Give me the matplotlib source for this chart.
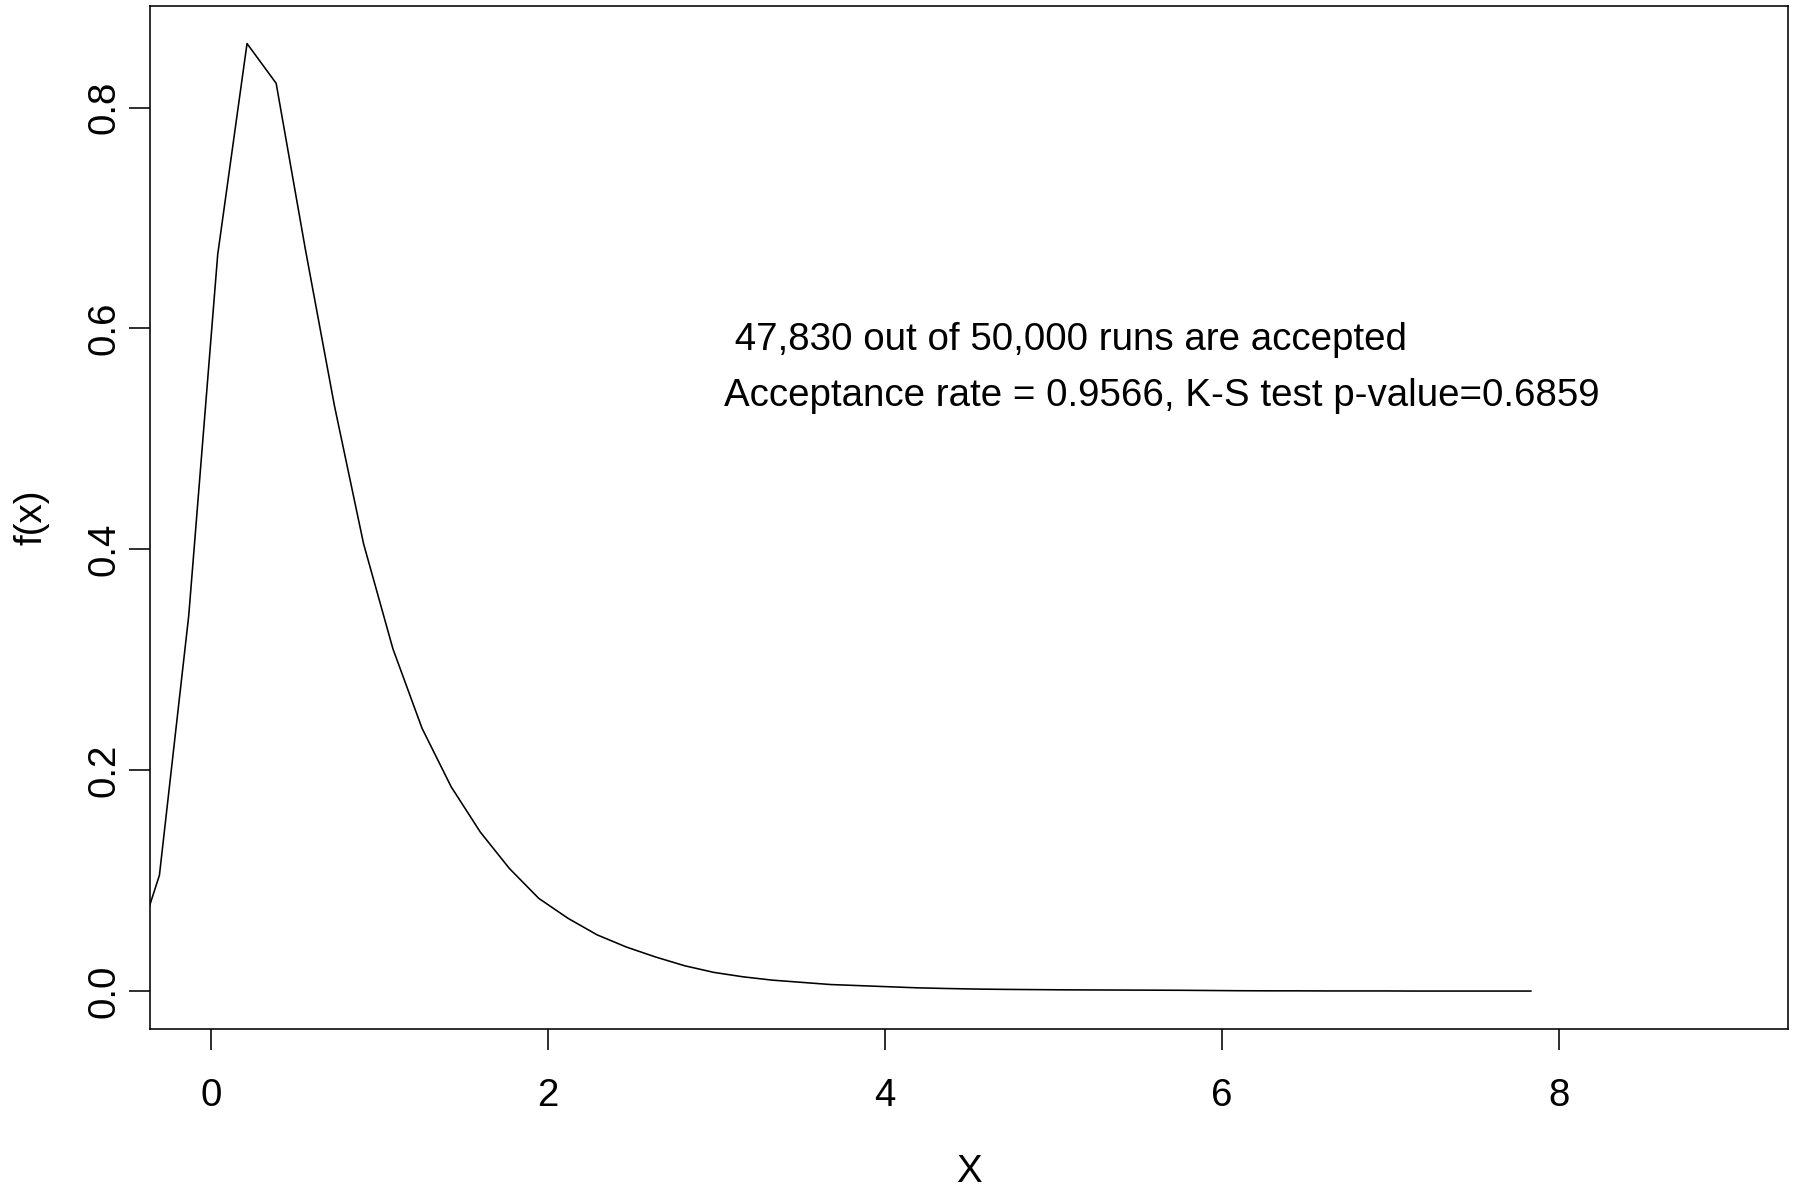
import numpy as np
import matplotlib as mplt
import matplotlib.pyplot as plt

mplt.rcParams['font.family'] = ['Liberation Sans', 'DejaVu Sans']

# density curve
x_vals = [-0.480, -0.307, -0.133, 0.039, 0.213, 0.386, 0.559, 0.732, 0.905, 1.079,
          1.252, 1.425, 1.598, 1.771, 1.945, 2.118, 2.291, 2.464, 2.637, 2.811,
          2.984, 3.157, 3.330, 3.503, 3.677, 3.850, 4.023, 4.196, 4.369, 4.542,
          4.715, 4.889, 5.062, 5.235, 5.408, 5.581, 5.754, 5.928, 6.101, 6.274,
          6.447, 6.620, 6.793, 6.967, 7.140, 7.313, 7.486, 7.659, 7.834]
fx_vals = [0.023, 0.105, 0.340, 0.667, 0.858, 0.822, 0.672, 0.530, 0.405, 0.310,
           0.238, 0.185, 0.144, 0.111, 0.084, 0.066, 0.051, 0.040, 0.031, 0.023,
           0.017, 0.013, 0.010, 0.008, 0.006, 0.005, 0.004, 0.003, 0.0024, 0.0019,
           0.0016, 0.0014, 0.0012, 0.0011, 0.0010, 0.0009, 0.0008, 0.0006, 0.0004, 0.0003,
           0.0003, 0.0002, 0.0002, 0.0002, 0.0001, 0.0001, 0.0001, 0.0001, 0.0001]

x_ticks = [0, 2, 4, 6, 8]
y_ticks = [0.0, 0.2, 0.4, 0.6, 0.8]
note_lines = [" 47,830 out of 50,000 runs are accepted",
              "Acceptance rate = 0.9566, K-S test p-value=0.6859"]

fs = 27.7

fig = plt.figure(figsize=(17.98, 11.88), dpi=100)
ax = fig.add_axes([0.0837, 0.1338, 0.9944 - 0.0837, 0.99495 - 0.1338])

ax.plot(x_vals, fx_vals, color='black', lw=1.15)

ax.set_xlim(-0.36, 9.36)
ax.set_ylim(-0.0343, 0.892)

ax.set_xticks(x_ticks)
ax.set_xticklabels([str(t) for t in x_ticks])
ax.set_yticks(y_ticks)
ax.set_yticklabels(["%.1f" % t for t in y_ticks])

for s in ax.spines.values():
    s.set_linewidth(1.15)

ax.tick_params(axis='x', direction='out', length=15, width=1.15, labelsize=fs, pad=20)
ax.tick_params(axis='y', direction='out', length=15, width=1.15, labelsize=fs, pad=5.5)
plt.setp(ax.get_yticklabels(), rotation=90, va='center')

ax.set_xlabel('X', fontsize=fs, va='center')
ax.xaxis.set_label_coords(0.5, -0.1395)
ax.set_ylabel('f(x)', fontsize=fs, va='center')
ax.yaxis.set_label_coords(-0.0725, 0.5)

# the two notes, left aligned like a legend without box
ax.text(3.044, 0.590, note_lines[0], fontsize=fs, ha='left', va='center')
ax.text(3.044, 0.539, note_lines[1], fontsize=fs, ha='left', va='center')

fig.savefig('out.png', dpi=100)
